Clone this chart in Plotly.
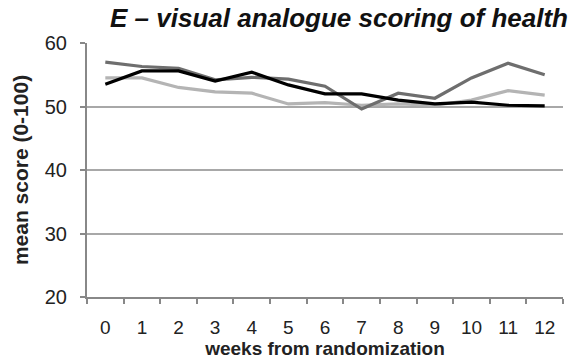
import plotly.graph_objects as go

weeks = [str(w) for w in range(13)]
tick_labels = weeks

# mean visual analogue scores per treatment group
group_black = [53.5, 55.6, 55.6, 54.0, 55.4, 53.4, 52.0, 52.0, 51.0, 50.4, 50.7, 50.2, 50.1]
group_dark = [57.0, 56.3, 56.0, 54.2, 54.6, 54.3, 53.2, 49.6, 52.1, 51.3, 54.5, 56.8, 55.0]
group_light = [54.5, 54.5, 53.0, 52.3, 52.1, 50.4, 50.6, 50.2, 50.4, 50.2, 51.0, 52.5, 51.8]

series = [
    (group_light, "#b4b4b4"),
    (group_dark, "#6e6e6e"),
    (group_black, "#000000"),
]

fig = go.Figure()
for values, color in series:
    fig.add_trace(go.Scatter(
        x=weeks, y=values, mode="lines",
        line=dict(color=color, width=3.2),
        showlegend=False, hoverinfo="skip",
    ))

font_family = "Liberation Sans, Arial, sans-serif"

fig.update_layout(
    width=574, height=361,
    margin=dict(l=87, r=11, t=43, b=64),
    paper_bgcolor="white", plot_bgcolor="white",
    font=dict(family=font_family, size=20, color="#222222"),
    xaxis=dict(
        type="category",
        range=[-0.5, 12.5],
        tickmode="array", tickvals=weeks, ticktext=tick_labels,
        tickson="boundaries",
        ticks="outside", ticklen=5, tickcolor="#888888", tickwidth=1.5,
        ticklabelstandoff=12,
        showline=True, linecolor="#888888", linewidth=2,
        showgrid=False, zeroline=False, automargin=False,
        tickfont=dict(size=19),
        title=dict(text="<b>weeks from randomization</b>",
                   font=dict(size=19), standoff=2),
    ),
    yaxis=dict(
        range=[20, 60],
        tickvals=[20, 30, 40, 50, 60],
        ticks="outside", ticklen=5, tickcolor="#888888", tickwidth=1.5,
        ticklabelstandoff=9,
        showline=True, linecolor="#888888", linewidth=2,
        showgrid=True, gridcolor="#a8a8a8", gridwidth=1.5,
        zeroline=False, automargin=False,
        tickfont=dict(size=20),
        title=dict(text="<b>mean score (0-100)</b>",
                   font=dict(size=21), standoff=10),
    ),
    annotations=[dict(
        text="<b><i>E – visual analogue scoring of health</i></b>",
        xref="paper", yref="paper", x=1.015, y=1.0,
        xanchor="right", yanchor="bottom", yshift=8,
        showarrow=False, font=dict(size=26, color="#111111"),
    )],
)

fig.write_html("out.html")
